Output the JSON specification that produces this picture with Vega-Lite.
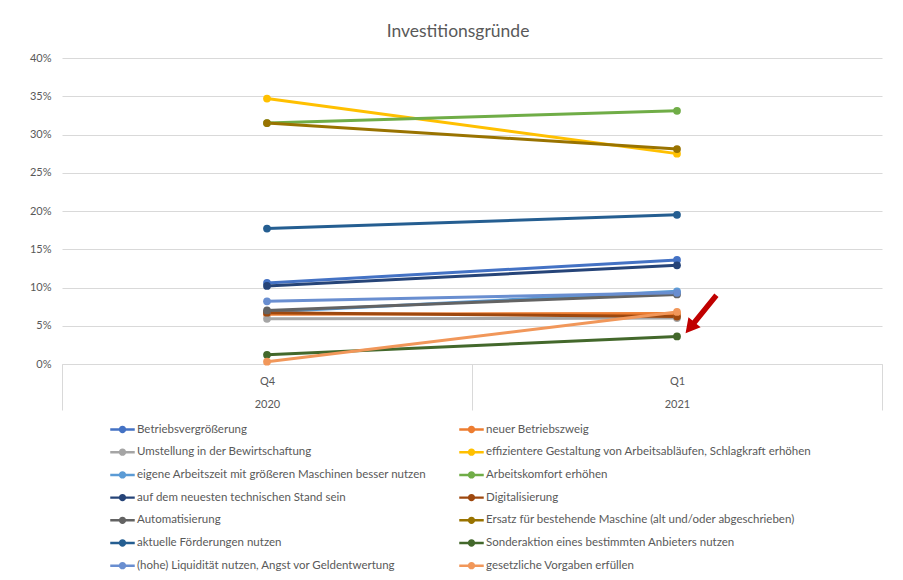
{
  "$schema": "https://vega.github.io/schema/vega-lite/v6.json",
  "width": 820,
  "height": 306,
  "autosize": {"type": "none"},
  "padding": {"left": 62, "top": 58, "right": 21, "bottom": 216},
  "background": "white",
  "title": {"text": "Investitionsgründe", "fontSize": 17.5, "font": "Lato", "fontWeight": "normal", "color": "#595959", "anchor": "middle", "dx": -14, "offset": 12},
  "config": {"view": {"stroke": null}, "font": "Lato"},
  "data": {"values": [
    {"Grund": "Betriebsvergrößerung", "Quartal": "Q4 2020", "Anteil": 0.106},
    {"Grund": "Betriebsvergrößerung", "Quartal": "Q1 2021", "Anteil": 0.136},
    {"Grund": "neuer Betriebszweig", "Quartal": "Q4 2020", "Anteil": 0.065},
    {"Grund": "neuer Betriebszweig", "Quartal": "Q1 2021", "Anteil": 0.066},
    {"Grund": "Umstellung in der Bewirtschaftung", "Quartal": "Q4 2020", "Anteil": 0.059},
    {"Grund": "Umstellung in der Bewirtschaftung", "Quartal": "Q1 2021", "Anteil": 0.060},
    {"Grund": "effizientere Gestaltung von Arbeitsabläufen, Schlagkraft erhöhen", "Quartal": "Q4 2020", "Anteil": 0.347},
    {"Grund": "effizientere Gestaltung von Arbeitsabläufen, Schlagkraft erhöhen", "Quartal": "Q1 2021", "Anteil": 0.275},
    {"Grund": "eigene Arbeitszeit mit größeren Maschinen besser nutzen", "Quartal": "Q4 2020", "Anteil": 0.068},
    {"Grund": "eigene Arbeitszeit mit größeren Maschinen besser nutzen", "Quartal": "Q1 2021", "Anteil": 0.095},
    {"Grund": "Arbeitskomfort erhöhen", "Quartal": "Q4 2020", "Anteil": 0.315},
    {"Grund": "Arbeitskomfort erhöhen", "Quartal": "Q1 2021", "Anteil": 0.331},
    {"Grund": "auf dem neuesten technischen Stand sein", "Quartal": "Q4 2020", "Anteil": 0.102},
    {"Grund": "auf dem neuesten technischen Stand sein", "Quartal": "Q1 2021", "Anteil": 0.129},
    {"Grund": "Digitalisierung", "Quartal": "Q4 2020", "Anteil": 0.067},
    {"Grund": "Digitalisierung", "Quartal": "Q1 2021", "Anteil": 0.062},
    {"Grund": "Automatisierung", "Quartal": "Q4 2020", "Anteil": 0.070},
    {"Grund": "Automatisierung", "Quartal": "Q1 2021", "Anteil": 0.091},
    {"Grund": "Ersatz für bestehende Maschine (alt und/oder abgeschrieben)", "Quartal": "Q4 2020", "Anteil": 0.315},
    {"Grund": "Ersatz für bestehende Maschine (alt und/oder abgeschrieben)", "Quartal": "Q1 2021", "Anteil": 0.281},
    {"Grund": "aktuelle Förderungen nutzen", "Quartal": "Q4 2020", "Anteil": 0.177},
    {"Grund": "aktuelle Förderungen nutzen", "Quartal": "Q1 2021", "Anteil": 0.195},
    {"Grund": "Sonderaktion eines bestimmten Anbieters nutzen", "Quartal": "Q4 2020", "Anteil": 0.012},
    {"Grund": "Sonderaktion eines bestimmten Anbieters nutzen", "Quartal": "Q1 2021", "Anteil": 0.036},
    {"Grund": "(hohe) Liquidität nutzen, Angst vor Geldentwertung", "Quartal": "Q4 2020", "Anteil": 0.082},
    {"Grund": "(hohe) Liquidität nutzen, Angst vor Geldentwertung", "Quartal": "Q1 2021", "Anteil": 0.093},
    {"Grund": "gesetzliche Vorgaben erfüllen", "Quartal": "Q4 2020", "Anteil": 0.003},
    {"Grund": "gesetzliche Vorgaben erfüllen", "Quartal": "Q1 2021", "Anteil": 0.068}
  ]},
  "encoding": {
    "x": {
      "field": "Quartal", "type": "nominal", "sort": ["Q4 2020", "Q1 2021"],
      "scale": {"type": "band", "paddingInner": 0, "paddingOuter": 0},
      "axis": {"title": null, "domainColor": "#d9d9d9", "tickColor": "#d9d9d9", "tickBand": "extent", "tickSize": 46, "labelExpr": "datum.value ? split(datum.value, ' ') : ''", "labelPadding": -35, "labelLineHeight": 23, "labelFontSize": 11, "labelColor": "#595959", "labelFont": "Lato", "grid": false, "labelAngle": 0}
    },
    "y": {
      "field": "Anteil", "type": "quantitative",
      "scale": {"domain": [0, 0.4], "nice": false},
      "axis": {"title": null, "values": [0, 0.05, 0.1, 0.15, 0.2, 0.25, 0.3, 0.35, 0.4], "format": ".0%", "ticks": false, "domain": false, "gridColor": "#d9d9d9", "labelOverlap": false, "labelPadding": 11, "labelFontSize": 11, "labelColor": "#595959", "labelFont": "Lato"}
    }
  },
  "layer": [
    {
      "mark": {"type": "line", "strokeWidth": 3, "point": {"filled": true, "size": 60}},
      "encoding": {
        "color": {
          "field": "Grund", "type": "nominal",
          "scale": {
            "domain": ["Betriebsvergrößerung", "Umstellung in der Bewirtschaftung", "eigene Arbeitszeit mit größeren Maschinen besser nutzen", "auf dem neuesten technischen Stand sein", "Automatisierung", "aktuelle Förderungen nutzen", "(hohe) Liquidität nutzen, Angst vor Geldentwertung", "neuer Betriebszweig", "effizientere Gestaltung von Arbeitsabläufen, Schlagkraft erhöhen", "Arbeitskomfort erhöhen", "Digitalisierung", "Ersatz für bestehende Maschine (alt und/oder abgeschrieben)", "Sonderaktion eines bestimmten Anbieters nutzen", "gesetzliche Vorgaben erfüllen"],
            "range": ["#4472C4", "#A5A5A5", "#5B9BD5", "#264478", "#636363", "#255E91", "#698ED0", "#ED7D31", "#FFC000", "#70AD47", "#9E480E", "#997300", "#43682B", "#F1975A"]
          },
          "legend": {
            "title": null, "orient": "none", "legendX": 48, "legendY": 359, "columns": 2, "columnPadding": 32, "rowPadding": 4.7, "padding": 0,
            "symbolType": "M-1,-0.1L1,-0.1L1,0.1L-1,0.1Z M0.3,0A0.3,0.3 0 1 1 -0.3,0A0.3,0.3 0 1 1 0.3,0Z",
            "symbolSize": 600, "labelFontSize": 11.5, "labelColor": "#595959", "labelFont": "Lato", "labelOffset": 2, "labelLimit": 0,
            "encode": {"symbols": {"update": {"fill": {"scale": "color", "field": "value"}, "stroke": {"value": "transparent"}, "strokeWidth": {"value": 0}}}}
          }
        }
      }
    },
    {
      "data": {"values": [{"Quartal": "Q1 2021", "Anteil": 0.065}]},
      "mark": {"type": "point", "shape": "M-1,-0.11L0.42,-0.11L0.42,-0.32L1,0L0.42,0.32L0.42,0.11L-1,0.11Z", "angle": 129, "size": 2400, "filled": true, "color": "#C00000", "opacity": 1, "strokeWidth": 0, "xOffset": 24}
    }
  ]
}
